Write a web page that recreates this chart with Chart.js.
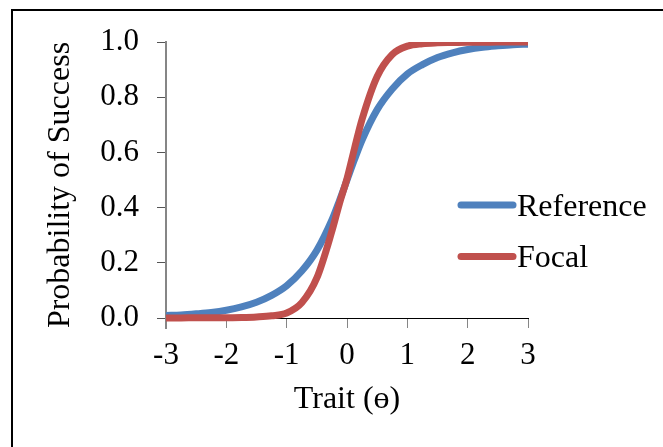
<!DOCTYPE html>
<html>
<head>
<meta charset="utf-8">
<script src="https://cdn.jsdelivr.net/npm/chart.js@4"></script>
<style>
  html, body { margin: 0; padding: 0; background: #fff; overflow: hidden; }
  #wrap { position: relative; width: 663px; height: 447px; }
  #frame {
    position: absolute; left: 11px; top: 9px; width: 700px; height: 500px;
    border-top: 2px solid #000; border-left: 2px solid #000;
  }
  #chart { position: absolute; left: 0; top: 0; }
</style>
</head>
<body>
<div id="wrap">
  <div id="frame"></div>
  <canvas id="chart" width="663" height="447"></canvas>
</div>
<script>
// item characteristic curves
const theta = [-3, -2.75, -2.5, -2.25, -2, -1.75, -1.5, -1.25, -1, -0.75, -0.5, -0.25, -0.125,
  0, 0.125, 0.25, 0.5, 0.75, 1, 1.25, 1.5, 1.75, 2, 2.25, 2.5, 2.75, 3];
const reference = [0.009, 0.011, 0.015, 0.020, 0.028, 0.040, 0.057, 0.082, 0.117, 0.170, 0.245, 0.355, 0.425,
  0.50, 0.575, 0.645, 0.755, 0.830, 0.884, 0.918, 0.944, 0.961, 0.973, 0.981, 0.986, 0.990, 0.992];
const focal = [0.000, 0.000, 0.001, 0.001, 0.001, 0.002, 0.004, 0.008, 0.018, 0.055, 0.145, 0.315, 0.415,
  0.505, 0.615, 0.720, 0.875, 0.955, 0.985, 0.994, 0.997, 0.998, 0.999, 0.999, 1.0, 1.0, 1.0];

const xTicks = [-3, -2, -1, 0, 1, 2, 3];
const yTicks = [0, 0.2, 0.4, 0.6, 0.8, 1.0];
const seriesNames = ["Reference", "Focal"];

const serif = "'Liberation Serif', 'Times New Roman', serif";

function points(ys) {
  return theta.map((t, i) => ({ x: t, y: ys[i] }));
}

// legend drawn beside the curves, Excel style (line + label)
const sideLegend = {
  id: "sideLegend",
  afterDraw(chart) {
    const ctx = chart.ctx;
    ctx.save();
    chart.data.datasets.forEach((ds, i) => {
      const y = 205 + i * 51.5;
      ctx.strokeStyle = ds.borderColor;
      ctx.lineWidth = 7;
      ctx.lineCap = "round";
      ctx.beginPath();
      ctx.moveTo(461, y);
      ctx.lineTo(513, y);
      ctx.stroke();
      ctx.fillStyle = "#000";
      ctx.font = "32px " + serif;
      ctx.textBaseline = "alphabetic";
      ctx.textAlign = "left";
      ctx.fillText(ds.label, 517, y + 10.5);
    });
    ctx.restore();
  }
};

// let the y axis line run down past the x axis like the original
const axisStub = {
  id: "axisStub",
  afterLayout(chart) {
    chart.scales.y.bottom += 10;
  }
};

new Chart(document.getElementById("chart"), {
  type: "line",
  data: {
    datasets: [
      {
        label: seriesNames[0],
        data: points(reference),
        borderColor: "#4F81BD",
        borderWidth: 7,
        pointRadius: 0,
        cubicInterpolationMode: "monotone",
        order: 1
      },
      {
        label: seriesNames[1],
        data: points(focal),
        borderColor: "#C0504D",
        borderWidth: 7,
        pointRadius: 0,
        cubicInterpolationMode: "monotone",
        order: 0
      }
    ]
  },
  options: {
    responsive: false,
    animation: false,
    layout: { padding: { top: 42, right: 135, bottom: 0, left: 14 } },
    plugins: {
      legend: { display: false },
      tooltip: { enabled: false }
    },
    scales: {
      x: {
        type: "linear",
        min: -3,
        max: 3,
        afterBuildTicks: s => { s.ticks = xTicks.map(v => ({ value: v })); },
        afterFit: s => { s.height = 129; },
        ticks: {
          color: "#000",
          padding: 9,
          font: { family: serif, size: 31 },
          callback: v => String(v)
        },
        grid: { drawOnChartArea: false, tickLength: 10, color: "#868686", lineWidth: 1 },
        border: { color: "#000", width: 1 },
        title: {
          display: true,
          text: "Trait (ө)",
          color: "#000",
          font: { family: serif, size: 32 },
          padding: { top: 0, bottom: 28 }
        }
      },
      y: {
        min: 0,
        max: 1,
        afterBuildTicks: s => { s.ticks = yTicks.map(v => ({ value: v })); },
        afterFit: s => { s.width = 152; },
        ticks: {
          color: "#000",
          padding: 18,
          font: { family: serif, size: 31 },
          callback: v => v.toFixed(1)
        },
        grid: { drawOnChartArea: false, tickLength: 9, color: "#555", lineWidth: 1 },
        border: { color: "#868686", width: 2 },
        title: {
          display: true,
          text: "Probability of Success",
          color: "#000",
          font: { family: serif, size: 32 },
          padding: { top: 27, bottom: 0 }
        }
      }
    }
  },
  plugins: [sideLegend, axisStub]
});
</script>
</body>
</html>
